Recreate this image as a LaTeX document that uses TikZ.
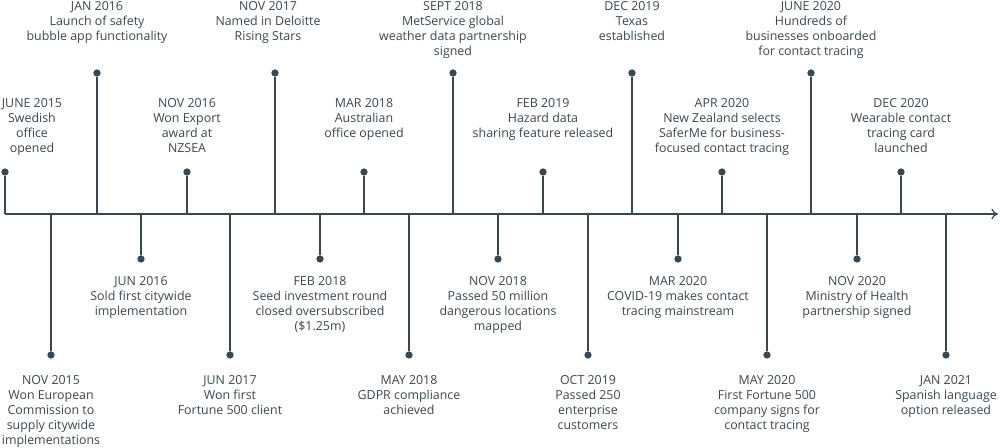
\documentclass[tikz,border=0pt]{standalone}
\usetikzlibrary{arrows.meta}
\usepackage{fontspec}
\setmainfont{Open Sans}
\definecolor{ink}{HTML}{3B4750}
\begin{document}
\begin{tikzpicture}[x=0.75pt,y=-0.75pt,
  lbl/.style={align=center,inner sep=0pt,text=ink,font=\fontsize{9.3}{11.25}\selectfont},
  dot/.style={circle,fill=ink,inner sep=0pt,minimum size=5.5pt},
  stem/.style={draw=ink,line width=0.9pt}]
\useasboundingbox (0,0) rectangle (1000,448);
\coordinate (s) at (5,214);
\coordinate (e) at (998,214);
\draw[ink,line width=0.9pt,-{To[length=5pt,width=8pt]}] (s) -- (e);
% above
\foreach \n/\x/\y/\tx/\ty/\t in {
 a/5/172/32/98/{JUNE 2015\\Swedish\\office\\opened},
 b/97/73/97/1.5/{JAN 2016\\Launch of safety\\bubble app functionality},
 c/187/172/187/98/{NOV 2016\\Won Export\\award at\\NZSEA},
 d/275/73/268/1.5/{NOV 2017\\Named in Deloitte\\Rising Stars},
 f/364/172/364/98/{MAR 2018\\Australian\\office opened},
 g/453/73/453/1.5/{SEPT 2018\\MetService global\\weather data partnership\\signed},
 h/543/172/543/98/{FEB 2019\\Hazard data\\sharing feature released},
 i/632/73/632/1.5/{DEC 2019\\Texas\\established},
 j/722/172/722/98/{APR 2020\\New Zealand selects\\SaferMe for business-\\focused contact tracing},
 k/811/73/811/1.5/{JUNE 2020\\Hundreds of\\businesses onboarded\\for contact tracing},
 l/901/172/901/98/{DEC 2020\\Wearable contact\\tracing card\\launched}}
{
 \node[dot] (d\n) at (\x,\y) {};
 \coordinate (b\n) at (\x,214);
 \draw[stem] (d\n) -- (b\n);
 \node[lbl,anchor=north] (t\n) at (\tx,\ty) {\t};
}
% below
\foreach \n/\x/\y/\ty/\t in {
 m/51/355/375/{NOV 2015\\Won European\\Commission to\\supply citywide\\implementations},
 n/141/259/276/{JUN 2016\\Sold first citywide\\implementation},
 o/230/355/375/{JUN 2017\\Won first\\Fortune 500 client},
 p/320/259/276/{FEB 2018\\Seed investment round\\closed oversubscribed\\(\$1.25m)},
 q/409/355/375/{MAY 2018\\GDPR compliance\\achieved},
 r/498/259/276/{NOV 2018\\Passed 50 million\\dangerous locations\\mapped},
 u/588/355/375/{OCT 2019\\Passed 250\\enterprise\\customers},
 v/678/259/276/{MAR 2020\\COVID-19 makes contact\\tracing mainstream},
 w/767/355/375/{MAY 2020\\First Fortune 500\\company signs for\\contact tracing},
 y/857/259/276/{NOV 2020\\Ministry of Health\\partnership signed},
 z/946/355/375/{JAN 2021\\Spanish language\\option released}}
{
 \node[dot] (d\n) at (\x,\y) {};
 \coordinate (b\n) at (\x,214);
 \draw[stem] (b\n) -- (d\n);
 \node[lbl,anchor=north] (t\n) at (\x,\ty) {\t};
}
\end{tikzpicture}
\end{document}
